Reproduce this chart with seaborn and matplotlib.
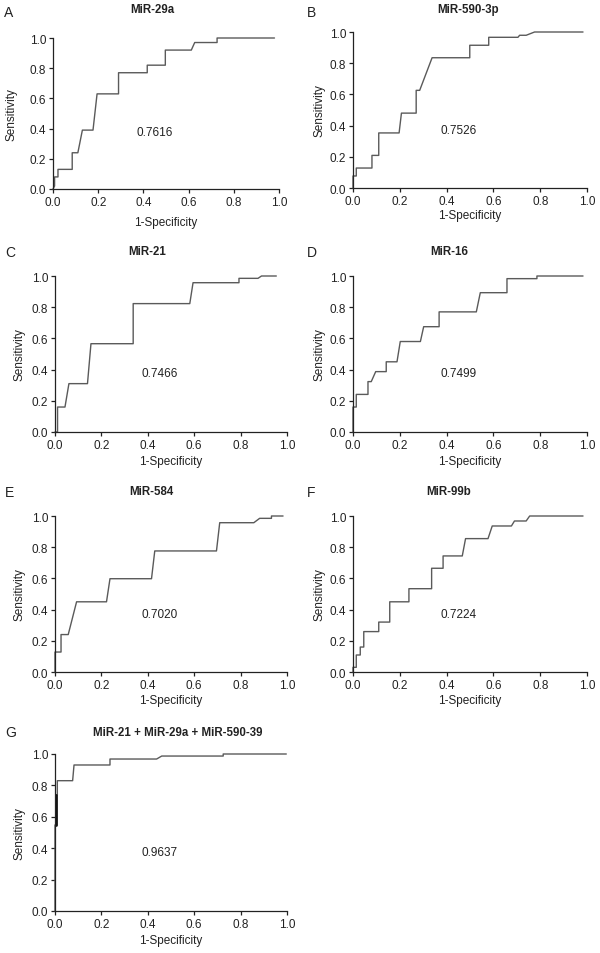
import matplotlib
matplotlib.use("Agg")
import matplotlib.pyplot as plt
import seaborn as sns
import pandas as pd

sns.set_style("ticks")
plt.rcParams['font.family'] = ['Liberation Sans', 'DejaVu Sans']

titles = ["MiR-29a", "MiR-590-3p", "MiR-21", "MiR-16", "MiR-584", "MiR-99b",
          "MiR-21 + MiR-29a + MiR-590-39"]
letters = ["A", "B", "C", "D", "E", "F", "G"]
auc_labels = ["0.7616", "0.7526", "0.7466", "0.7499", "0.7020", "0.7224", "0.9637"]

fpr_a = [0, 0.007, 0.007, 0.022, 0.022, 0.085, 0.085, 0.11, 0.13, 0.177, 0.195, 0.29, 0.29,
         0.417, 0.417, 0.497, 0.497, 0.612, 0.627, 0.726, 0.726, 0.98]
tpr_a = [0, 0.02, 0.08, 0.08, 0.13, 0.13, 0.24, 0.24, 0.39, 0.39, 0.63, 0.63, 0.77,
         0.77, 0.82, 0.82, 0.92, 0.92, 0.97, 0.97, 1.0, 1.0]

fpr_b = [0, 0, 0.014, 0.014, 0.081, 0.081, 0.11, 0.11, 0.197, 0.207, 0.27, 0.27, 0.285,
         0.338, 0.499, 0.499, 0.58, 0.58, 0.705, 0.712, 0.74, 0.776, 0.983]
tpr_b = [0, 0.077, 0.077, 0.128, 0.128, 0.209, 0.209, 0.353, 0.353, 0.48, 0.48, 0.626, 0.626,
         0.835, 0.835, 0.915, 0.915, 0.966, 0.966, 0.979, 0.979, 1.0, 1.0]

fpr_c = [0, 0.011, 0.011, 0.043, 0.06, 0.14, 0.155, 0.337, 0.337, 0.581, 0.595, 0.793,
         0.793, 0.875, 0.89, 0.954]
tpr_c = [0, 0, 0.16, 0.16, 0.31, 0.31, 0.566, 0.566, 0.823, 0.823, 0.957, 0.957,
         0.985, 0.985, 1.0, 1.0]

fpr_d = [0, 0, 0.014, 0.014, 0.064, 0.064, 0.078, 0.097, 0.142, 0.142, 0.188, 0.202,
         0.288, 0.302, 0.368, 0.368, 0.527, 0.544, 0.658, 0.658, 0.786, 0.786, 0.983]
tpr_d = [0, 0.16, 0.16, 0.241, 0.241, 0.323, 0.323, 0.387, 0.387, 0.45, 0.45, 0.58,
         0.58, 0.675, 0.675, 0.77, 0.77, 0.893, 0.893, 0.983, 0.983, 1.0, 1.0]

fpr_e = [0, 0, 0.026, 0.026, 0.057, 0.093, 0.222, 0.237, 0.416, 0.43, 0.696, 0.71,
         0.857, 0.882, 0.933, 0.933, 0.983]
tpr_e = [0, 0.128, 0.128, 0.24, 0.24, 0.45, 0.45, 0.598, 0.598, 0.776, 0.776, 0.957,
         0.957, 0.985, 0.985, 1.0, 1.0]

fpr_f = [0, 0, 0.014, 0.014, 0.031, 0.031, 0.046, 0.046, 0.11, 0.11, 0.157, 0.157,
         0.239, 0.239, 0.336, 0.336, 0.385, 0.385, 0.467, 0.481, 0.577, 0.595, 0.677,
         0.69, 0.74, 0.755, 0.983]
tpr_f = [0, 0.03, 0.03, 0.109, 0.109, 0.16, 0.16, 0.259, 0.259, 0.32, 0.32, 0.45,
         0.45, 0.534, 0.534, 0.665, 0.665, 0.744, 0.744, 0.855, 0.855, 0.936, 0.936,
         0.968, 0.968, 1.0, 1.0]

fpr_g = [0, 0, 0.003, 0.003, 0.01, 0.01, 0.076, 0.082, 0.237, 0.237, 0.438, 0.46,
         0.725, 0.725, 0.997]
tpr_g = [0, 0.548, 0.548, 0.739, 0.739, 0.83, 0.83, 0.93, 0.93, 0.968, 0.968, 0.987,
         0.987, 1.0, 1.0]

fprs = [fpr_a, fpr_b, fpr_c, fpr_d, fpr_e, fpr_f, fpr_g]
tprs = [tpr_a, tpr_b, tpr_c, tpr_d, tpr_e, tpr_f, tpr_g]
ticks = [0.0, 0.2, 0.4, 0.6, 0.8, 1.0]
tick_labels = ["0.0", "0.2", "0.4", "0.6", "0.8", "1.0"]

W, H = 600, 954
# axes boxes in pixels: left, top, right, bottom
boxes = [(53, 39, 279, 190), (353, 33, 587, 189),
         (55, 277, 287, 433), (353, 277, 587, 433),
         (55, 517, 287, 673), (353, 517, 587, 673),
         (55, 755, 287, 912)]
title_pos = [(152, 10), (468, 10), (147, 252), (449, 252), (151, 492), (449, 492), (178, 733)]
letter_pos = [(4, 13), (307, 13), (5, 253), (307, 253), (5, 493), (307, 493), (5, 733)]
xlabel_gap = [27, 21, 23, 23, 22, 22, 23]      # px from axis to top of x label
ylabel_x = [18, 326, 26, 326, 26, 326, 26]     # px position of right edge of y label

fig = plt.figure(figsize=(6, 9.54), dpi=100)
line_color = "#5a5a5a"
text_color = "#222222"
fs = 8.5

for i in range(7):
    l, t, r, b = boxes[i]
    ax = fig.add_axes([l / W, 1 - b / H, (r - l) / W, (b - t) / H])
    df = pd.DataFrame({"fpr": fprs[i], "tpr": tprs[i]})
    sns.lineplot(data=df, x="fpr", y="tpr", ax=ax, sort=False, estimator=None,
                 color=line_color, linewidth=1.0)
    for ln in ax.lines:
        ln.set_clip_on(False)
    if i == 6:
        ax.plot([0.003, 0.003], [0.548, 0.739], color="#111111", linewidth=2.0, clip_on=False)
    ax.set_xlim(0, 1)
    ax.set_ylim(0, 1)
    ax.set_xticks(ticks)
    ax.set_xticklabels(tick_labels)
    ax.set_yticks(ticks)
    ax.set_yticklabels(tick_labels)
    sns.despine(ax=ax)
    for s in ["left", "bottom"]:
        ax.spines[s].set_linewidth(0.9)
        ax.spines[s].set_color("#222222")
    ax.tick_params(axis="both", length=3, width=0.9, pad=2, labelsize=fs,
                   colors=text_color)
    ax.set_xlabel("1-Specificity", fontsize=fs, color=text_color)
    ax.set_ylabel("Sensitivity", fontsize=fs, color=text_color)
    hpx = b - t
    wpx = r - l
    ax.xaxis.set_label_coords(0.5, -xlabel_gap[i] / hpx)
    ax.yaxis.set_label_coords((ylabel_x[i] - l) / wpx, 0.5)
    ax.text(0.45, 0.375, auc_labels[i], transform=ax.transAxes, ha="center",
            va="center", fontsize=fs, color=text_color)
    tx, ty = title_pos[i]
    fig.text(tx / W, 1 - ty / H, titles[i], ha="center", va="center",
             fontsize=8.3, fontweight="bold", color=text_color)
    lx, ly = letter_pos[i]
    fig.text(lx / W, 1 - ly / H, letters[i], ha="left", va="center",
             fontsize=10, color=text_color)

fig.savefig("out.png", dpi=100)
